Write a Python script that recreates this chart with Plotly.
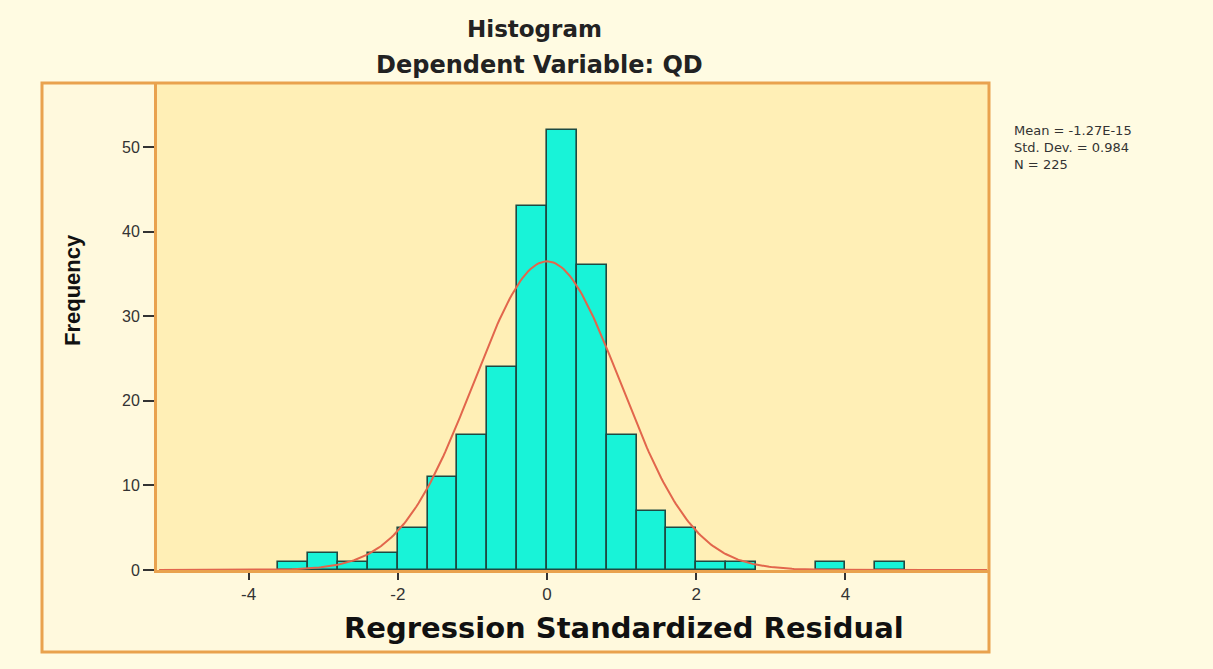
import numpy as np
import plotly.graph_objects as go

# ---- data ----
bin_centers = [-3.4, -3.0, -2.6, -2.2, -1.8, -1.4, -1.0, -0.6, -0.2,
               0.2, 0.6, 1.0, 1.4, 1.8, 2.2, 2.6, 3.8, 4.6]
frequencies = [1, 2, 1, 2, 5, 11, 16, 24, 43,
               52, 36, 16, 7, 5, 1, 1, 1, 1]
bin_width = 0.4
x_ticks = [-4, -2, 0, 2, 4]
y_ticks = [0, 10, 20, 30, 40, 50]
stat_mean = -1.27e-15
stat_sd = 0.984
stat_n = 225
stat_lines = ["Mean = -1.27E-15", "Std. Dev. = 0.984", "N = 225"]

# fitted normal curve (from the stated mean, sd and N)
curve_x = np.linspace(-5.2, 5.9, 400)
curve_y = stat_n * bin_width * np.exp(-0.5 * ((curve_x - stat_mean) / stat_sd) ** 2) / (stat_sd * np.sqrt(2 * np.pi))

W, H = 1213, 669
L, R, T, B = 157, 988, 83, 570
pw, ph = R - L, B - T

def px(x):
    return (x - L) / pw

def py(y):
    return (B - y) / ph

ORANGE = "#E9A24E"
FONT = "Liberation Sans, Arial, sans-serif"
WIDE = "DejaVu Sans, Verdana, sans-serif"
PAGE = "#FFFBE2"

fig = go.Figure()
fig.add_trace(go.Bar(
    x=bin_centers, y=frequencies, width=bin_width,
    marker=dict(color="#18F3D8", line=dict(color="#1D4A42", width=1.6)),
    showlegend=False, hoverinfo="x+y"))
fig.add_trace(go.Scatter(
    x=curve_x, y=curve_y, mode="lines",
    line=dict(color="#E2664C", width=2), showlegend=False, hoverinfo="skip"))

shapes = [
    dict(type="rect", xref="paper", yref="paper", x0=px(42), x1=px(989), y0=py(652), y1=py(T),
         fillcolor="#FFF9DD", line=dict(width=0), layer="below"),
    dict(type="rect", xref="paper", yref="paper", x0=0, x1=1, y0=0, y1=1,
         fillcolor="#FFEFB6", line=dict(width=0), layer="below"),
    dict(type="rect", xref="paper", yref="paper", x0=px(42), x1=px(989), y0=py(652), y1=py(T),
         fillcolor="rgba(0,0,0,0)", line=dict(color=ORANGE, width=3), layer="above"),
]

annotations = [
    dict(text="<b>Histogram</b>", x=px(534), y=py(29), xref="paper", yref="paper",
         showarrow=False, font=dict(family=WIDE, size=23, color="#222"), xanchor="center", yanchor="middle"),
    dict(text="<b>Dependent Variable: QD</b>", x=px(539), y=py(65), xref="paper", yref="paper",
         showarrow=False, font=dict(family=WIDE, size=24, color="#222"), xanchor="center", yanchor="middle"),
    dict(text="<b>Frequency</b>", x=px(72), y=py(290), xref="paper", yref="paper", textangle=-90,
         showarrow=False, font=dict(family=FONT, size=22, color="#111"), xanchor="center", yanchor="middle"),
    dict(text="<b>Regression Standardized Residual</b>", x=px(624), y=py(628), xref="paper", yref="paper",
         showarrow=False, font=dict(family=WIDE, size=29, color="#111"), xanchor="center", yanchor="middle"),
    dict(text="<br>".join(stat_lines), x=px(1012), y=py(121), xref="paper", yref="paper",
         showarrow=False, align="left",
         font=dict(family=WIDE, size=13, color="#333"), xanchor="left", yanchor="top"),
]

fig.update_layout(
    width=W, height=H,
    margin=dict(l=L, r=W - R, t=T, b=H - B, pad=0),
    paper_bgcolor=PAGE,
    plot_bgcolor="rgba(0,0,0,0)",
    bargap=0,
    shapes=shapes,
    annotations=annotations,
    xaxis=dict(range=[(L - 547) / 74.6, (R - 547) / 74.6], tickvals=x_ticks,
               ticktext=[str(v) for v in x_ticks],
               ticks="outside", ticklen=7, tickwidth=2, tickcolor="#333",
               showline=True, linecolor=ORANGE, linewidth=3,
               showgrid=False, zeroline=False,
               tickfont=dict(family=FONT, size=17, color="#333")),
    yaxis=dict(range=[0, (B - T) / 8.46], tickvals=y_ticks,
               ticks="outside", ticklen=11, tickwidth=2, tickcolor="#333",
               showline=True, linecolor=ORANGE, linewidth=3,
               showgrid=False, zeroline=False,
               tickfont=dict(family=FONT, size=16, color="#333")),
)

fig.write_html("out.html", config={"displayModeBar": False},
               post_script="document.body.style.margin='0';document.body.style.background='" + PAGE + "';")
